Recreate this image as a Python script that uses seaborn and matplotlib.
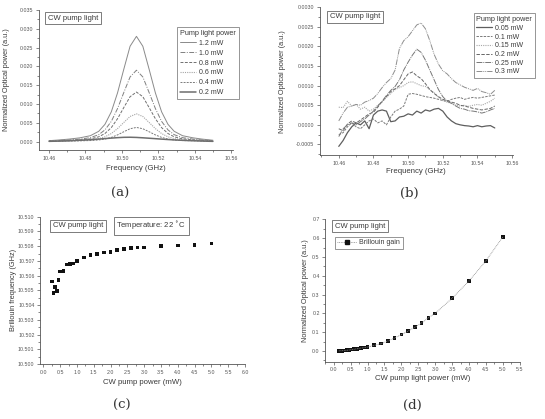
import numpy as np
import pandas as pd
import matplotlib
matplotlib.use("Agg")
import matplotlib.pyplot as plt
from matplotlib.ticker import MultipleLocator, AutoMinorLocator, FormatStrFormatter
from matplotlib.lines import Line2D
import seaborn as sns

# ---------------- data ----------------
# (a) CW pump light spectra, 0.2 - 1.2 mW
freq_a = [10.460, 10.465, 10.471, 10.477, 10.4827, 10.4873, 10.4907, 10.4942, 10.4976,
          10.5011, 10.5045, 10.508, 10.5115, 10.5149, 10.5184, 10.5218, 10.5253, 10.5287,
          10.5333, 10.539, 10.544, 10.548, 10.550]
a_12 = [0.00028, 0.00045, 0.0007, 0.00104, 0.0016, 0.00277, 0.00462, 0.00795, 0.01296,
        0.01935, 0.02537, 0.0280, 0.02537, 0.01935, 0.01296, 0.00795, 0.00462, 0.00277,
        0.0016, 0.00104, 0.0007, 0.0005, 0.00039]
a_10 = [0.00019, 0.0003, 0.00048, 0.0007, 0.00108, 0.00188, 0.00314, 0.0054, 0.0088,
        0.01313, 0.01721, 0.0190, 0.01721, 0.01313, 0.0088, 0.0054, 0.00314, 0.00188,
        0.00108, 0.0007, 0.00048, 0.00034, 0.00027]
a_08 = [0.00013, 0.00021, 0.00033, 0.00049, 0.00075, 0.00131, 0.00218, 0.00375, 0.00611,
        0.00912, 0.01196, 0.0132, 0.01196, 0.00912, 0.00611, 0.00375, 0.00218, 0.00131,
        0.00075, 0.00049, 0.00033, 0.00024, 0.00018]
a_06 = [0.00017, 0.00022, 0.00028, 0.00037, 0.00052, 0.00082, 0.0013, 0.00217, 0.00348,
        0.00514, 0.00671, 0.0074, 0.00671, 0.00514, 0.00348, 0.00217, 0.0013, 0.00082,
        0.00052, 0.00037, 0.00028, 0.00023, 0.0002]
a_04 = [0.00014, 0.00016, 0.00019, 0.00024, 0.00031, 0.00047, 0.00071, 0.00115, 0.00181,
        0.00266, 0.00345, 0.0038, 0.00345, 0.00266, 0.00181, 0.00115, 0.00071, 0.00047,
        0.00031, 0.00024, 0.00019, 0.00017, 0.00015]
a_02 = [0.0001, 0.00016, 0.00025, 0.00038, 0.00054, 0.0007, 0.00083, 0.00096, 0.00108,
        0.00117, 0.00119, 0.00114, 0.00104, 0.00093, 0.00081, 0.00069, 0.00058, 0.00048,
        0.00037, 0.00027, 0.00018, 0.00012, 0.0001]
labels_a = ["1.2 mW", "1.0 mW", "0.8 mW", "0.6 mW", "0.4 mW", "0.2 mW"]

# (b) CW pump light spectra, 0.05 - 0.3 mW
freq_b = [10.4600, 10.4625, 10.4650, 10.4675, 10.4700, 10.4725, 10.4750, 10.4775,
          10.4800, 10.4825, 10.4850, 10.4875, 10.4900, 10.4925, 10.4950, 10.4975,
          10.5000, 10.5025, 10.5050, 10.5075, 10.5100, 10.5125, 10.5150, 10.5175,
          10.5200, 10.5225, 10.5250, 10.5275, 10.5300, 10.5325, 10.5350, 10.5375,
          10.5400, 10.5425, 10.5450, 10.5475, 10.5500]
b_030 = [0.00010, 0.00030, 0.00045, 0.00048, 0.00052, 0.00050, 0.00058, 0.00062,
         0.00068, 0.00080, 0.00095, 0.00108, 0.00118, 0.00140, 0.00195, 0.00215,
         0.00225, 0.00240, 0.00255, 0.00260, 0.00245, 0.00215, 0.00180, 0.00155,
         0.00138, 0.00130, 0.00118, 0.00108, 0.00102, 0.00096, 0.00092, 0.00088,
         0.00093, 0.00085, 0.00082, 0.00078, 0.00088]
b_025 = [-0.0003, -0.0001, 0.0, 0.00005, 0.0, 0.00008, 0.00015, 0.00025,
         0.00035, 0.00048, 0.0006, 0.00075, 0.00088, 0.00098, 0.00115, 0.0014,
         0.0016, 0.00178, 0.00193, 0.00185, 0.00165, 0.0014, 0.00115, 0.0009,
         0.00072, 0.0006, 0.00055, 0.00048, 0.00042, 0.0004, 0.00036, 0.00035,
         0.00033, 0.0003, 0.00033, 0.00038, 0.00042]
b_020 = [-0.0001, -0.00015, 0.00002, 0.0001, 0.00005, 0.00012, 0.0002, 0.00028,
         0.00032, 0.00045, 0.0006, 0.00072, 0.00085, 0.00092, 0.001, 0.00115,
         0.0013, 0.00135, 0.00125, 0.00118, 0.00105, 0.0009, 0.0008, 0.00072,
         0.00065, 0.00062, 0.00058, 0.00055, 0.0005, 0.00048, 0.00045, 0.00042,
         0.0004, 0.00038, 0.0004, 0.00042, 0.00048]
b_015 = [0.00045, 0.00044, 0.0006, 0.00048, 0.00052, 0.0004, 0.00045, 0.00035,
         0.0004, 0.0005, 0.00058, 0.0007, 0.0008, 0.0009, 0.00095, 0.001,
         0.00108, 0.0011, 0.00105, 0.001, 0.00098, 0.0009, 0.00082, 0.0007,
         0.00062, 0.00058, 0.00055, 0.0005, 0.00048, 0.0005, 0.00047, 0.0005,
         0.00052, 0.0005, 0.00055, 0.0006, 0.00068]
b_010 = [-0.00025, -0.0002, -0.00005, 0.00005, -0.00005, -0.0001, 0.0, 0.0001,
         0.00015, 0.00005, 0.0001, 0.0, 0.0002, 0.00035, 0.0004, 0.00048,
         0.00078, 0.0008, 0.00078, 0.00075, 0.00072, 0.0007, 0.00068, 0.00065,
         0.00062, 0.0006, 0.00065, 0.00068, 0.0007, 0.00065, 0.00068, 0.0007,
         0.00068, 0.0007, 0.00072, 0.00074, 0.00076]
b_005 = [-0.00055, -0.0004, -0.0002, -0.00005, 0.00005, 0.0, 0.0001, -0.0001,
         0.00025, 0.00035, 0.00038, 0.00035, 0.00008, 0.0001, 0.0002, 0.00022,
         0.00028, 0.00025, 0.00035, 0.0003, 0.00038, 0.00035, 0.0004, 0.00042,
         0.00035, 0.0002, 0.0001, 0.00003, 0.0, -0.00002, -0.00003, -0.00005,
         -0.00002, -0.00005, -0.00003, -0.00002, -0.00008]
labels_b = ["0.05 mW", "0.1 mW", "0.15 mW", "0.2 mW", "0.25 mW", "0.3 mW"]

# (c) Brillouin frequency vs CW pump power
power_c = [0.25, 0.3, 0.35, 0.4, 0.45, 0.5, 0.6, 0.7, 0.8, 0.9, 1.0, 1.2, 1.4, 1.6,
           1.8, 2.0, 2.2, 2.4, 2.6, 2.8, 3.0, 3.5, 4.0, 4.5, 5.0]
bfreq_c = [10.50559, 10.50484, 10.50525, 10.50494, 10.50568, 10.50629, 10.50633,
           10.50676, 10.50679, 10.50683, 10.50698, 10.50724, 10.50738, 10.50749,
           10.50756, 10.50762, 10.50776, 10.50783, 10.50787, 10.50790, 10.50792,
           10.50799, 10.50805, 10.50808, 10.50817]

# (d) Brillouin gain vs CW pump light power
power_d = [0.15, 0.2, 0.25, 0.3, 0.35, 0.4, 0.45, 0.5, 0.6, 0.7, 0.8, 0.9, 1.0, 1.2,
           1.4, 1.6, 1.8, 2.0, 2.2, 2.4, 2.6, 2.8, 3.0, 3.5, 4.0, 4.5, 5.0]
gain_d = [0.0005, 0.001, 0.0015, 0.002, 0.003, 0.004, 0.005, 0.007, 0.009, 0.012,
          0.015, 0.018, 0.021, 0.030, 0.039, 0.053, 0.069, 0.087, 0.106, 0.126,
          0.149, 0.177, 0.200, 0.280, 0.372, 0.479, 0.606]

# ---------------- style ----------------
sns.set_style("ticks")
plt.rcParams["font.family"] = ["Liberation Sans", "DejaVu Sans"]
TXT = "#3a3a3a"
SP = "#555555"
plt.rcParams.update({"text.color": TXT, "axes.labelcolor": TXT,
                     "xtick.color": SP, "ytick.color": SP,
                     "axes.edgecolor": SP, "axes.linewidth": 0.6})

W, H = 545, 419
fig = plt.figure(figsize=(W / 100, H / 100), dpi=100)
fig.patch.set_facecolor("white")


def make_ax(left, right, top, bottom):
    return fig.add_axes([left / W, 1 - bottom / H, (right - left) / W, (bottom - top) / H])


def style_ax(ax, xmaj, ymaj, xfmt, yfmt):
    sns.despine(ax=ax)
    ax.xaxis.set_major_locator(MultipleLocator(xmaj))
    ax.yaxis.set_major_locator(MultipleLocator(ymaj))
    ax.xaxis.set_minor_locator(AutoMinorLocator(2))
    ax.yaxis.set_minor_locator(AutoMinorLocator(2))
    ax.xaxis.set_major_formatter(FormatStrFormatter(xfmt))
    ax.yaxis.set_major_formatter(FormatStrFormatter(yfmt))
    ax.tick_params(which="major", direction="out", length=2.5, width=0.5,
                   labelsize=3.8, pad=1.5, labelcolor="#555555")
    ax.tick_params(which="minor", direction="out", length=1.5, width=0.5)
    ax.set_facecolor("white")


def label_ax(ax, xl, yl, xy_x, xy_y):
    ax.set_xlabel(xl, fontsize=5.6)
    ax.set_ylabel(yl, fontsize=5.3)
    ax.xaxis.set_label_coords(0.5, xy_x)
    ax.yaxis.set_label_coords(xy_y, 0.5)
    ax.xaxis.label.set_va("center")
    ax.yaxis.label.set_va("center")


def boxtext(xpx, ypx, s):
    fig.text(xpx / W, 1 - ypx / H, s, ha="left", va="center", fontsize=5.5,
             bbox=dict(boxstyle="square,pad=0.35", fc="white", ec="#666666", lw=0.6))


def caption(xpx, ypx, s):
    fig.text(xpx / W, 1 - ypx / H, s, ha="center", va="center", fontsize=9.5,
             family=["DejaVu Serif"], color="#333333")


# ---------------- (a) ----------------
axa = make_ax(39, 233, 10, 150)
series_a = [a_12, a_10, a_08, a_06, a_04, a_02]
styles_a = [("-", "#8a8a8a", 0.7), ((0, (5, 1.5, 1, 1.5)), "#808080", 0.7),
            ((0, (3, 1.5)), "#707070", 0.7), ((0, (1, 1)), "#a5a5a5", 0.8),
            ((0, (2, 1.2)), "#7a7a7a", 0.7), ("-", "#6e6e6e", 1.1)]
for vals, lab, (ls, c, lw) in zip(series_a, labels_a, styles_a):
    df = pd.DataFrame({"freq": freq_a, "power": vals})
    sns.lineplot(data=df, x="freq", y="power", ax=axa, color=c, linestyle=ls,
                 linewidth=lw, label=lab)
axa.set_xlim(10.4545, 10.561)
axa.set_ylim(-0.0022, 0.035)
style_ax(axa, 0.02, 0.005, "%.2f", "%.3f")
label_ax(axa, "Frequency (GHz)", "Normalized Optical power (a.u.)", -0.13, -0.165)
leg = axa.legend(title="Pump light power", loc="upper left",
                 bbox_to_anchor=(176.7 / W, 1 - 26.7 / H), bbox_transform=fig.transFigure,
                 borderaxespad=0, fontsize=5, title_fontsize=5.2, frameon=True,
                 fancybox=False, edgecolor="#666666", handlelength=2.3,
                 labelspacing=0.42, handletextpad=0.4, borderpad=0.45)
leg.get_frame().set_linewidth(0.6)
leg._legend_box.align = "left"
boxtext(48, 18.3, "CW pump light")

# ---------------- (b) ----------------
axb = make_ax(319.7, 513, 7.3, 155)
series_b = [b_005, b_010, b_015, b_020, b_025, b_030]
styles_b = [("-", "#5e5e5e", 0.9), ((0, (2.5, 1.2)), "#7a7a7a", 0.7),
            ((0, (1, 1)), "#a8a8a8", 0.8), ((0, (3.5, 1.5)), "#666666", 0.7),
            ((0, (6, 1, 1, 1)), "#777777", 0.7), ((0, (6, 1, 1, 1, 1, 1)), "#8e8e8e", 0.7)]
for vals, lab, (ls, c, lw) in zip(series_b, labels_b, styles_b):
    df = pd.DataFrame({"freq": freq_b, "power": vals})
    sns.lineplot(data=df, x="freq", y="power", ax=axb, color=c, linestyle=ls,
                 linewidth=lw, label=lab)
axb.set_xlim(10.449, 10.5605)
axb.set_ylim(-0.00077, 0.0030)
style_ax(axb, 0.02, 0.0005, "%.2f", "%.4f")
label_ax(axb, "Frequency (GHz)", "Normalized Optical power (a.u.)", -0.113, -0.195)
leg = axb.legend(title="Pump light power", loc="upper left",
                 bbox_to_anchor=(473.7 / W, 1 - 13.3 / H), bbox_transform=fig.transFigure,
                 borderaxespad=0, fontsize=5, title_fontsize=5.2, frameon=True,
                 fancybox=False, edgecolor="#666666", handlelength=2.3,
                 labelspacing=0.25, handletextpad=0.4, borderpad=0.4)
leg.get_frame().set_linewidth(0.6)
leg._legend_box.align = "left"
boxtext(330, 16.7, "CW pump light")

# ---------------- (c) ----------------
axc = make_ax(40, 245, 216.7, 364)
dfc = pd.DataFrame({"power": power_c, "bfreq": bfreq_c})
sns.scatterplot(data=dfc, x="power", y="bfreq", ax=axc, marker="s", color="#111111",
                s=7, edgecolor="none")
axc.set_xlim(-0.1, 6.0)
axc.set_ylim(10.500, 10.510)
style_ax(axc, 0.5, 0.001, "%.1f", "%.3f")
label_ax(axc, "CW pump power (mW)", "Brillouin frequency (GHz)", -0.127, -0.13)
boxtext(53, 225.8, "CW pump light")
boxtext(116.5, 225.8, "Temperature: 22 $^{\\circ}$C")

# ---------------- (d) ----------------
axd = make_ax(325.3, 519.7, 219.3, 361.7)
dfd = pd.DataFrame({"power": power_d, "gain": gain_d})
sns.lineplot(data=dfd, x="power", y="gain", ax=axd, color="#8a8a8a",
             linestyle=(0, (1, 1)), linewidth=0.6)
sns.scatterplot(data=dfd, x="power", y="gain", ax=axd, marker="s", color="#111111",
                s=7, edgecolor="none")
axd.set_xlim(-0.25, 5.5)
axd.set_ylim(-0.057, 0.7)
style_ax(axd, 0.5, 0.1, "%.1f", "%.1f")
label_ax(axd, "CW pump light power (mW)", "Normalized Optical power (a.u.)", -0.117, -0.103)
handle = Line2D([], [], color="#8a8a8a", linestyle=(0, (1, 1)), linewidth=0.6,
                marker="s", markersize=2.6, markerfacecolor="#111111",
                markeredgecolor="#111111")
leg = axd.legend([handle], ["Brillouin gain"], loc="upper left",
                 bbox_to_anchor=(334.7 / W, 1 - 236.7 / H), bbox_transform=fig.transFigure,
                 borderaxespad=0, fontsize=5, frameon=True, fancybox=False,
                 edgecolor="#666666", handlelength=2.8, handletextpad=0.4, borderpad=0.35)
leg.get_frame().set_linewidth(0.6)
boxtext(335, 226.3, "CW pump light")

# ---------------- captions ----------------
caption(120, 193, "(a)")
caption(409, 193, "(b)")
caption(122, 405, "(c)")
caption(412, 405, "(d)")

fig.savefig("out.png", dpi=100, facecolor="white")
